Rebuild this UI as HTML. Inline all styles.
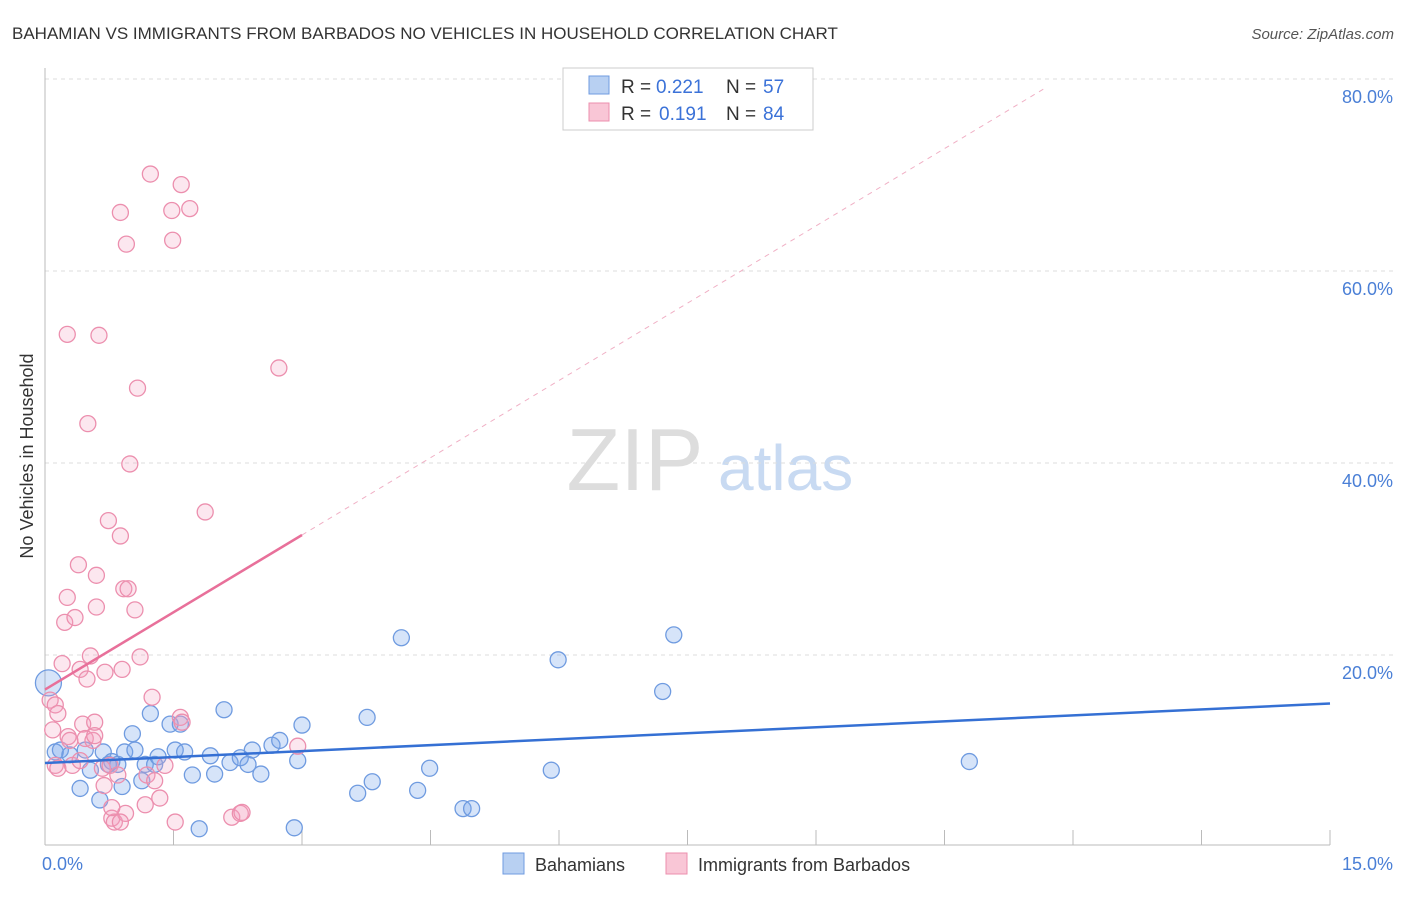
<!DOCTYPE html>
<html><head><meta charset="utf-8"><style>
body{margin:0;background:#fff;font-family:"Liberation Sans",sans-serif}
svg text{font-family:"Liberation Sans",sans-serif}
</style></head><body>
<svg id="chart" width="1406" height="892" xmlns="http://www.w3.org/2000/svg">
<text x="12" y="39" font-size="17" fill="#333">BAHAMIAN VS IMMIGRANTS FROM BARBADOS NO VEHICLES IN HOUSEHOLD CORRELATION CHART</text>
<text x="1394" y="39" font-size="15" fill="#555" text-anchor="end" font-style="italic">Source: ZipAtlas.com</text>
<text transform="translate(33,456) rotate(-90)" font-size="18" fill="#333" text-anchor="middle">No Vehicles in Household</text>
<g><text x="635" y="490" font-size="88" fill="#ddd" font-family="Liberation Serif" text-anchor="middle">ZIP</text><text x="718" y="490" font-size="64" fill="#c8daf2">atlas</text></g>
<g id="grid"></g><g id="axes"></g><g id="marks"></g>
<g>
<rect x="563" y="68" width="250" height="62" fill="#fff" stroke="#ccc"/>
<rect x="589" y="76" width="20" height="18" fill="#b8d0f2" stroke="#6f9be0"/>
<rect x="589" y="103" width="20" height="18" fill="#f9c6d6" stroke="#ec8fae"/>
<text x="621" y="93" font-size="19" fill="#333">R =</text><text x="656" y="93" font-size="19" fill="#3b72d8">0.221</text>
<text x="726" y="93" font-size="19" fill="#333">N =</text><text x="763" y="93" font-size="19" fill="#3b72d8">57</text>
<text x="621" y="120" font-size="19" fill="#333">R =</text><text x="659" y="120" font-size="19" fill="#3b72d8">0.191</text>
<text x="726" y="120" font-size="19" fill="#333">N =</text><text x="763" y="120" font-size="19" fill="#3b72d8">84</text>
</g>
<g>
<rect x="503" y="853" width="21" height="21" fill="#b8d0f2" stroke="#6f9be0"/>
<text x="535" y="871" font-size="18" fill="#333">Bahamians</text>
<rect x="666" y="853" width="21" height="21" fill="#f9c6d6" stroke="#ec8fae"/>
<text x="698" y="871" font-size="18" fill="#333">Immigrants from Barbados</text>
</g>
</svg>
<script>
const yTicks=[20,40,60,80];
const xTickLabels=["0.0%","15.0%"];
const blueX=[0.04,0.12,0.18,0.29,0.41,0.47,0.53,0.64,0.68,0.74,0.78,0.85,0.90,0.93,1.02,1.05,1.13,1.17,1.23,1.28,1.32,1.46,1.52,1.58,1.63,1.72,1.80,1.93,1.98,2.09,2.16,2.28,2.37,2.42,2.52,2.65,2.74,2.95,3.00,2.91,3.65,3.76,3.82,4.16,4.35,4.49,4.88,4.98,5.91,5.99,7.21,7.34,10.79];
const blueY=[17.1,9.9,10.1,9.6,6.1,10.1,8.0,4.9,9.9,8.6,8.9,8.6,6.3,9.9,11.8,10.1,6.9,8.6,13.9,8.6,9.4,12.8,10.1,12.8,9.9,7.5,1.9,9.5,7.6,14.3,8.8,9.3,8.6,10.1,7.6,10.6,11.1,9.0,12.7,2.0,5.6,13.5,6.8,21.8,5.9,8.2,4.0,4.0,8.0,19.5,16.2,22.1,8.9];
const pinkX=[0.06,0.09,0.12,0.12,0.15,0.2,0.23,0.26,0.27,0.32,0.35,0.39,0.41,0.44,0.47,0.49,0.5,0.53,0.56,0.58,0.6,0.6,0.63,0.67,0.69,0.7,0.74,0.76,0.78,0.81,0.85,0.88,0.88,0.9,0.92,0.94,0.95,0.97,1.05,1.08,0.99,1.11,1.17,1.19,1.23,1.25,1.28,1.34,1.4,1.48,1.49,1.52,1.58,1.59,1.6,1.69,1.87,2.18,2.28,2.3,2.73,2.95,0.26,0.15,0.29,0.41,0.58,0.78,0.88];
const pinkY=[15.3,12.2,14.8,8.5,8.2,19.1,23.4,26.0,11.5,8.5,23.9,29.4,18.5,12.8,11.3,17.5,44.1,19.9,11.1,13.0,25.0,28.3,53.3,8.2,6.4,18.2,34.0,8.5,3.0,2.6,7.5,32.4,66.1,18.5,26.9,3.5,62.8,26.9,24.7,47.8,39.9,19.8,4.4,7.5,70.1,15.6,6.9,5.1,8.5,66.3,63.2,2.6,13.5,69.0,13.0,66.5,34.9,3.1,3.5,3.6,49.9,10.5,53.4,13.9,11.1,9.0,11.6,4.1,2.6];
const blueTrend=[8.75,14.95];
const pinkTrend=[16.4,32.5];
const X0=45,X1=1330,Y0=847,Y80=79;
const sx=v=>X0+(X1-X0)*v/15, sy=v=>Y0-(Y0-Y80)*v/80;
const NS="http://www.w3.org/2000/svg";
function mk(tag,attrs,parent){const e=document.createElementNS(NS,tag);for(const k in attrs)e.setAttribute(k,attrs[k]);document.getElementById(parent).appendChild(e);return e;}
yTicks.forEach(t=>{
 const l=mk('line',{x1:X0,x2:1393,y1:sy(t),y2:sy(t),stroke:'#ddd','stroke-dasharray':'4,4'},'grid');
 
 
 const tx=mk('text',{x:1393,y:sy(t)+24,'font-size':18,fill:'#4a7fd6','text-anchor':'end'},'grid');
 tx.textContent=t.toFixed(1)+'%';
 
 
});
const ax=mk('line',{x1:X0,x2:X0,y1:68,y2:845,stroke:'#bbb'},'axes');


const bx=mk('line',{x1:X0,x2:X1,y1:845,y2:845,stroke:'#bbb'},'axes');


for(let i=0;i<=10;i++){const t=mk('line',{x1:sx(i*1.5),x2:sx(i*1.5),y1:830,y2:845,stroke:'#bbb'},'axes');
 
 }
[[xTickLabels[0],X0-3,'start'],[xTickLabels[1],1393,'end']].forEach(a=>{const t=mk('text',{x:a[1],y:870,'font-size':18,fill:'#4a7fd6','text-anchor':a[2]},'axes');t.textContent=a[0];
 
 });
blueX.forEach((v,i)=>{const c=mk('circle',{cx:sx(v),cy:sy(blueY[i]),r:i==0?13:8,fill:'rgba(120,165,235,0.3)',stroke:'#6f9be0','stroke-width':1.3},'marks');
 
 });
pinkX.forEach((v,i)=>{const c=mk('circle',{cx:sx(v),cy:sy(pinkY[i]),r:8,fill:'rgba(245,160,190,0.25)',stroke:'#ec8fae','stroke-width':1.3},'marks');
 
 });
const slope=(pinkTrend[1]-pinkTrend[0])/3;
const pd=mk('line',{x1:sx(3),y1:sy(pinkTrend[1]),x2:sx(11.7),y2:sy(pinkTrend[0]+slope*11.7),stroke:'#f0b0c5','stroke-dasharray':'5,5','stroke-width':1},'marks');


const pl=mk('line',{x1:sx(0),y1:sy(pinkTrend[0]),x2:sx(3),y2:sy(pinkTrend[1]),stroke:'#e8709a','stroke-width':2.5},'marks');


const bl=mk('line',{x1:sx(0),y1:sy(blueTrend[0]),x2:sx(15),y2:sy(blueTrend[1]),stroke:'#3570d4','stroke-width':2.5},'marks');


</script>
</body></html>
